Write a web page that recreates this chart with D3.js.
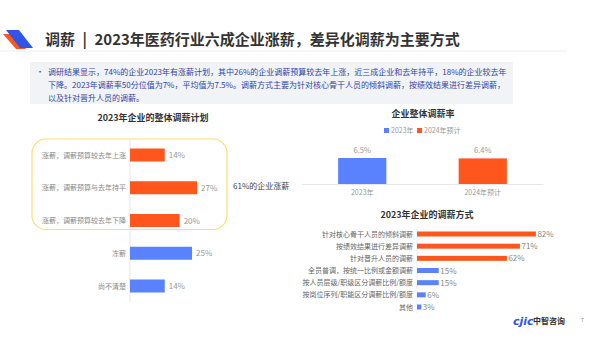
<!DOCTYPE html>
<html>
<head>
<meta charset="utf-8">
<script src="https://cdn.jsdelivr.net/npm/d3@7"></script>
<style>
  body { margin: 0; background: #fff; }
  svg { font-family: "Noto Sans CJK SC", "Noto Sans", sans-serif; }
</style>
</head>
<body>
<div id="chart"></div>
<script>
const ORANGE = "#ff561e";
const BLUE = "#5a82ff";

const title = "调薪\u2002|\u20022023年医药行业六成企业涨薪，差异化调薪为主要方式";
const summaryLines = [
	"调研结果显示，74%的企业2023年有涨薪计划，其中26%的企业调薪预算较去年上涨，近三成企业和去年持平，18%的企业较去年",
	"下降。2023年调薪率50分位值为7%，平均值为7.5%。调薪方式主要为针对核心骨干人员的倾斜调薪，按绩效结果进行差异调薪，",
	"以及针对晋升人员的调薪。"
];

// left chart
const planCats = ["涨薪，调薪预算较去年上涨", "涨薪，调薪预算与去年持平", "涨薪，调薪预算较去年下降", "冻薪", "尚不清楚"];
const planValues = [14, 27, 20, 25, 14];
const planRaise = [true, true, true, false, false];

// middle chart
const rateCats = ["2023年", "2024年预计"];
const rateValues = [6.5, 6.4];

// bottom right chart
const methodCats = [
	"针对核心骨干人员的倾斜调薪",
	"按绩效结果进行差异调薪",
	"针对晋升人员的调薪",
	"全员普调，按统一比例或金额调薪",
	"按人员层级/职级区分调薪比例/额度",
	"按岗位序列/职能区分调薪比例/额度",
	"其他"
];
const methodValues = [82, 71, 62, 15, 15, 6, 3];
const methodTop = [true, true, true, false, false, false, false];

const svg = d3.select("#chart").append("svg")
	.attr("width", 600).attr("height", 338);

// header
svg.append("polygon").attr("points", "3,34 13,34 26,49 16,49").attr("fill", ORANGE);
svg.append("polygon").attr("points", "6,30 19,30 33,48 20,48").attr("fill", "#2f55e6");
svg.append("text").attr("x", 45).attr("y", 45)
	.attr("font-size", 15).attr("font-weight", "bold").attr("fill", "#333")
	.text(title);
svg.append("line").attr("x1", 0).attr("x2", 567).attr("y1", 51).attr("y2", 51)
	.attr("stroke", "#eceef2").attr("stroke-width", 1);

// summary
svg.append("rect").attr("x", 30).attr("y", 62).attr("width", 483).attr("height", 42)
	.attr("fill", "#f2f3f6");
svg.append("text").attr("x", 36).attr("y", 75).attr("font-size", 8).attr("fill", "#2d45a8").text("•");
svg.selectAll(".sum").data(summaryLines).enter().append("text")
	.attr("class", "sum")
	.attr("x", 48).attr("y", (d, i) => 75 + i * 13)
	.attr("font-size", 8).attr("fill", "#2d45a8")
	.text(d => d);

// ---------- left chart ----------
const left = svg.append("g");
left.append("text").attr("x", 153).attr("y", 121).attr("text-anchor", "middle")
	.attr("font-size", 9).attr("font-weight", "bold").attr("fill", "#333")
	.text("2023年企业的整体调薪计划");

const yPlan = d3.scalePoint().domain(planCats).range([155, 286]);
const xPlan = d3.scaleLinear().domain([0, 27]).range([130, 197]);

// raise group frame
left.append("rect")
	.attr("x", 32).attr("y", yPlan(planCats[0]) - 16)
	.attr("width", 195).attr("height", yPlan(planCats[2]) - yPlan(planCats[0]) + 25)
	.attr("rx", 14).attr("fill", "none").attr("stroke", "#ffdc73").attr("stroke-width", 1.2);

left.append("line").attr("x1", xPlan(0)).attr("x2", xPlan(0))
	.attr("y1", 140).attr("y2", 302).attr("stroke", "#e6e6e6");

left.selectAll(".pbar").data(planCats).enter().append("rect")
	.attr("class", "pbar")
	.attr("x", xPlan(0))
	.attr("y", d => yPlan(d) - 6.5)
	.attr("height", 13)
	.attr("width", (d, i) => xPlan(planValues[i]) - xPlan(0))
	.attr("fill", (d, i) => planRaise[i] ? ORANGE : BLUE);

left.selectAll(".plab").data(planCats).enter().append("text")
	.attr("class", "plab")
	.attr("x", xPlan(0) - 4).attr("y", d => yPlan(d) + 2.5)
	.attr("text-anchor", "end").attr("font-size", 7).attr("fill", "#888")
	.text(d => d);

left.selectAll(".pval").data(planCats).enter().append("text")
	.attr("class", "pval")
	.attr("x", (d, i) => xPlan(planValues[i]) + 4).attr("y", d => yPlan(d) + 3)
	.attr("font-size", 8).attr("fill", "#999")
	.text((d, i) => planValues[i] + "%");

left.append("text").attr("x", 233).attr("y", 189)
	.attr("font-size", 8).attr("fill", "#444").text("61%的企业涨薪");
left.append("line").attr("x1", 302).attr("x2", 321).attr("y1", 184.5).attr("y2", 184.5)
	.attr("stroke", "#e3e3e3");

// ---------- middle chart ----------
const mid = svg.append("g");
mid.append("text").attr("x", 423).attr("y", 117).attr("text-anchor", "middle")
	.attr("font-size", 9).attr("font-weight", "bold").attr("fill", "#333")
	.text("企业整体调薪率");

const legend = mid.selectAll(".leg").data(rateCats).enter().append("g")
	.attr("class", "leg")
	.attr("transform", (d, i) => `translate(${i === 0 ? 384 : 417},128)`);
legend.append("rect").attr("width", 5).attr("height", 5)
	.attr("fill", (d, i) => i === 0 ? BLUE : ORANGE);
legend.append("text").attr("x", 7).attr("y", 5.2).attr("font-size", 7).attr("fill", "#999")
	.text(d => d);

const xRate = d3.scaleBand().domain(rateCats).range([302, 543]).paddingInner(0.6).paddingOuter(0.3);
const yRate = d3.scaleLinear().domain([0, 10]).range([184, 144]);

mid.selectAll(".rbar").data(rateCats).enter().append("rect")
	.attr("class", "rbar")
	.attr("x", d => xRate(d)).attr("width", xRate.bandwidth())
	.attr("y", (d, i) => yRate(rateValues[i]))
	.attr("height", (d, i) => yRate(0) - yRate(rateValues[i]))
	.attr("fill", (d, i) => i === 0 ? BLUE : ORANGE);

mid.selectAll(".rval").data(rateCats).enter().append("text")
	.attr("class", "rval")
	.attr("x", d => xRate(d) + xRate.bandwidth() / 2)
	.attr("y", (d, i) => yRate(rateValues[i]) - 5)
	.attr("text-anchor", "middle").attr("font-size", 7.5).attr("fill", "#999")
	.text((d, i) => rateValues[i] + "%");

const xAxisRate = mid.append("g").attr("transform", `translate(0,${yRate(0)})`)
	.call(d3.axisBottom(xRate).tickSize(0).tickPadding(6));
xAxisRate.select(".domain").attr("stroke", "#e6e6e6");
xAxisRate.selectAll("text").attr("font-size", 7).attr("fill", "#999")
	.attr("font-family", "Noto Sans CJK SC");

// ---------- bottom right chart ----------
const br = svg.append("g");
br.append("text").attr("x", 427).attr("y", 218).attr("text-anchor", "middle")
	.attr("font-size", 9).attr("font-weight", "bold").attr("fill", "#333")
	.text("2023年企业的调薪方式");

const yMethod = d3.scalePoint().domain(methodCats).range([234, 307]);
const xMethod = d3.scaleLinear().domain([0, 100]).range([417, 562]);

br.append("line").attr("x1", xMethod(0)).attr("x2", xMethod(0))
	.attr("y1", 228).attr("y2", 313).attr("stroke", "#ececec");

br.selectAll(".mbar").data(methodCats).enter().append("rect")
	.attr("class", "mbar")
	.attr("x", xMethod(0))
	.attr("y", d => yMethod(d) - 2.5)
	.attr("height", 5)
	.attr("width", (d, i) => xMethod(methodValues[i]) - xMethod(0))
	.attr("fill", (d, i) => methodTop[i] ? ORANGE : BLUE);

br.selectAll(".mlab").data(methodCats).enter().append("text")
	.attr("class", "mlab")
	.attr("x", xMethod(0) - 4).attr("y", d => yMethod(d) + 2.5)
	.attr("text-anchor", "end").attr("font-size", 7).attr("fill", "#666")
	.text(d => d);

br.selectAll(".mval").data(methodCats).enter().append("text")
	.attr("class", "mval")
	.attr("x", (d, i) => xMethod(methodValues[i]) + 1.5).attr("y", d => yMethod(d) + 3)
	.attr("font-size", 8).attr("fill", "#888")
	.text((d, i) => methodValues[i] + "%");

// footer
svg.append("text").attr("x", 513).attr("y", 325)
	.attr("font-size", 11).attr("font-weight", "bold").attr("fill", "#2f55e6")
	.attr("font-family", "DejaVu Sans").attr("font-style", "italic").text("cjic");
svg.append("text").attr("x", 533).attr("y", 324)
	.attr("font-size", 8).attr("font-weight", "bold").attr("fill", "#333")
	.text("中智咨询");
svg.append("text").attr("x", 581).attr("y", 322)
	.attr("font-size", 5).attr("fill", "#777").text("7");
</script>
</body>
</html>
